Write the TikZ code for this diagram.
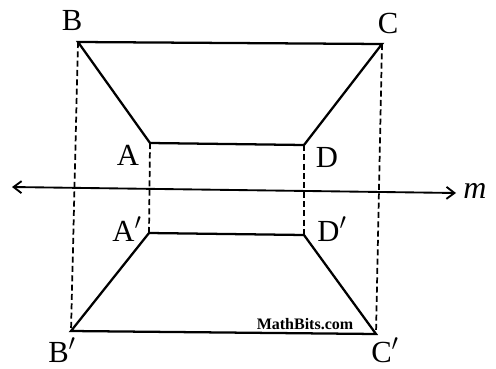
\documentclass[tikz,border=0pt]{standalone}
\usepackage{fontspec}
\setmainfont{Liberation Serif}
\usetikzlibrary{arrows.meta}
\begin{document}
\begin{tikzpicture}[x=0.75pt,y=-0.75pt,
  solidline/.style={line width=1.7pt},
  dashline/.style={line width=1.3pt,dash pattern=on 4.5pt off 2.5pt},
  lbl/.style={font=\fontsize{23}{27}\selectfont,inner sep=0pt},
  pt/.style={inner sep=0pt,minimum size=0pt}]
\useasboundingbox (0,0) rectangle (496,368);
\node[pt] (B) at (78,42) {};
\node[pt] (C) at (382,44) {};
\node[pt] (A) at (150,143) {};
\node[pt] (D) at (304,145) {};
\node[pt] (A1) at (149,233) {};
\node[pt] (D1) at (304,235) {};
\node[pt] (B1) at (71,331) {};
\node[pt] (C1) at (376,334) {};
\coordinate (mL) at (12,187);
\coordinate (mR) at (456,193);
\draw[solidline] (B.center) -- (C.center) -- (D.center) -- (A.center) -- cycle;
\draw[solidline] (A1.center) -- (D1.center) -- (C1.center) -- (B1.center) -- cycle;
\draw[dashline] (B.center) -- (B1.center);
\draw[dashline] (C.center) -- (C1.center);
\draw[dashline] (A.center) -- (A1.center);
\draw[dashline] (D.center) -- (D1.center);
\draw[line width=1.4pt,<->,>={Straight Barb[length=6pt,width=9pt]}] (mL) -- (mR);
\node[lbl] (lB) at (72,21) {B};
\node[lbl] (lC) at (388,23) {C};
\node[lbl] (lA) at (128,155) {A};
\node[lbl] (lD) at (327,157) {D};
\node[lbl] (lA1) at (127,229) {A$'$};
\node[lbl] (lD1) at (332,229) {D$'$};
\node[lbl] (lB1) at (62,350) {B$'$};
\node[lbl] (lC1) at (385,350) {C$'$};
\node[lbl,font=\fontsize{24}{28}\selectfont\itshape] (lm) at (475,191) {m};
\node[inner sep=0pt,font=\fontsize{12}{14}\selectfont\bfseries] (wm) at (305,324) {MathBits.com};
\end{tikzpicture}
\end{document}
